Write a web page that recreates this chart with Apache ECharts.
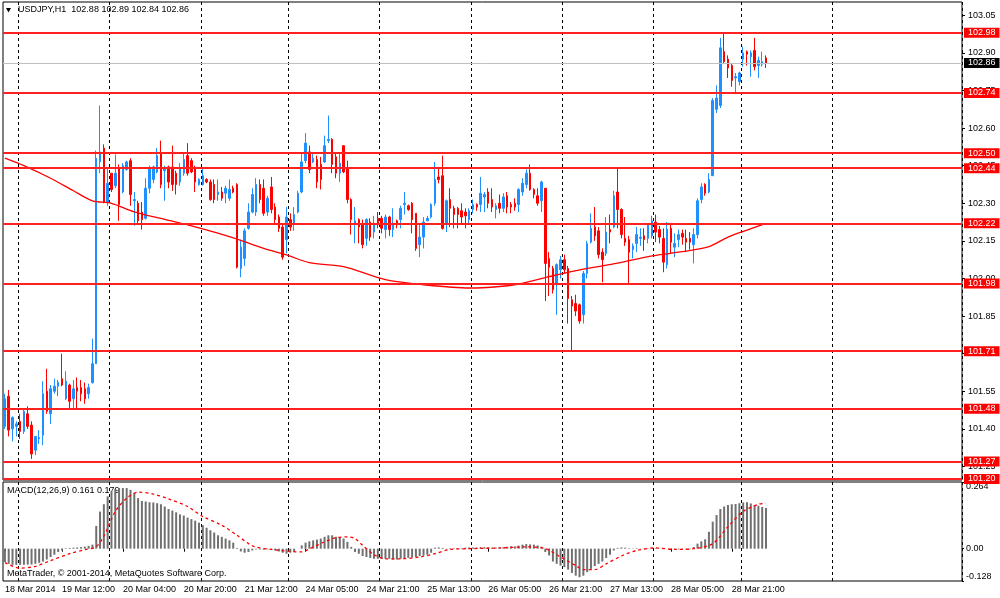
<!DOCTYPE html>
<html><head><meta charset="utf-8">
<script src="https://cdn.jsdelivr.net/npm/echarts@6/dist/echarts.min.js"></script>
<style>html,body{margin:0;padding:0;background:#fff}#c{width:1000px;height:598px}</style>
</head><body><div id="c"></div>
<script>
const symbolName = 'USDJPY,H1';
const opens = [101.41,101.53,101.40,101.41,101.43,101.39,101.46,101.415,101.315,101.36,
101.375,101.55,101.46,101.55,101.57,101.60,101.52,101.575,101.52,101.565,
101.565,101.56,101.54,101.585,101.66,102.465,102.52,102.305,102.42,102.37,
102.44,102.345,102.435,102.47,102.31,102.30,102.265,102.24,102.36,102.395,
102.425,102.50,102.43,102.445,102.445,102.42,102.385,102.42,102.49,102.47,
102.44,102.375,102.375,102.395,102.385,102.375,102.335,102.345,102.34,102.32,
102.36,102.375,102.04,102.08,102.20,102.265,102.265,102.375,102.36,102.265,
102.365,102.285,102.245,102.205,102.155,102.235,102.22,102.265,102.345,102.47,
102.505,102.465,102.475,102.455,102.465,102.55,102.555,102.485,102.42,102.53,
102.44,102.315,102.22,102.235,102.22,102.16,102.225,102.185,102.24,102.24,
102.195,102.245,102.195,102.23,102.235,102.295,102.29,102.30,102.26,102.135,
102.165,102.23,102.245,102.30,102.405,102.41,102.22,102.315,102.28,102.28,
102.27,102.265,102.235,102.275,102.295,102.295,102.325,102.345,102.315,102.275,
102.30,102.28,102.33,102.295,102.30,102.295,102.345,102.375,102.42,102.355,
102.33,102.31,102.36,102.08,102.04,101.98,102.035,102.075,102.04,101.915,
101.90,101.895,101.855,102.02,102.145,102.205,102.19,102.105,102.10,102.195,
102.205,102.345,102.275,102.16,102.155,102.115,102.14,102.16,102.17,102.16,
102.17,102.225,102.195,102.16,102.055,102.20,102.125,102.155,102.18,102.16,
102.16,102.135,102.175,102.315,102.375,102.345,102.41,102.675,102.69,102.905,
102.875,102.85,102.80,102.785,102.875,102.905,102.885,102.91,102.85,102.855,
102.88];
const highs = [101.54,101.555,101.45,101.43,101.46,101.48,101.49,101.43,101.37,101.395,
101.59,101.64,101.575,101.60,101.595,101.70,101.63,101.58,101.595,101.605,
101.595,101.585,101.58,101.76,102.51,102.69,102.535,102.44,102.42,102.495,
102.455,102.46,102.47,102.48,102.345,102.31,102.305,102.40,102.45,102.45,
102.52,102.55,102.45,102.45,102.53,102.43,102.46,102.505,102.54,102.48,
102.45,102.40,102.44,102.40,102.395,102.395,102.395,102.365,102.37,102.395,
102.37,102.38,102.155,102.20,102.30,102.36,102.40,102.395,102.395,102.33,
102.405,102.30,102.255,102.22,102.285,102.26,102.285,102.35,102.50,102.58,
102.53,102.505,102.49,102.485,102.57,102.65,102.56,102.50,102.50,102.53,
102.47,102.32,102.285,102.24,102.235,102.24,102.24,102.25,102.265,102.25,
102.255,102.25,102.28,102.235,102.29,102.345,102.295,102.305,102.26,102.22,
102.245,102.25,102.30,102.465,102.445,102.49,102.315,102.36,102.29,102.285,
102.30,102.28,102.28,102.315,102.30,102.405,102.345,102.36,102.36,102.30,
102.335,102.34,102.345,102.305,102.32,102.36,102.40,102.435,102.455,102.36,
102.36,102.39,102.36,102.105,102.05,102.06,102.09,102.095,102.05,101.93,
101.935,101.90,102.03,102.15,102.26,102.285,102.205,102.12,102.245,102.255,
102.35,102.44,102.28,102.245,102.17,102.14,102.205,102.20,102.20,102.22,
102.25,102.255,102.21,102.20,102.225,102.22,102.18,102.195,102.195,102.195,
102.185,102.20,102.32,102.38,102.38,102.42,102.72,102.77,102.96,102.98,
102.89,102.86,102.82,102.825,102.925,102.91,102.91,102.96,102.885,102.905,
102.89];
const lows = [101.40,101.37,101.35,101.37,101.36,101.38,101.40,101.28,101.295,101.34,
101.335,101.46,101.42,101.54,101.53,101.57,101.515,101.48,101.48,101.48,
101.51,101.50,101.52,101.58,101.66,102.42,102.30,102.29,102.345,102.36,
102.23,102.34,102.43,102.29,102.21,102.22,102.195,102.235,102.34,102.38,
102.42,102.36,102.31,102.36,102.35,102.335,102.37,102.41,102.41,102.42,
102.345,102.37,102.37,102.38,102.31,102.30,102.31,102.31,102.30,102.31,
102.34,102.04,102.005,102.05,102.195,102.26,102.25,102.30,102.25,102.25,
102.26,102.22,102.185,102.075,102.10,102.19,102.19,102.26,102.34,102.46,
102.42,102.46,102.36,102.355,102.46,102.54,102.42,102.40,102.385,102.42,
102.30,102.175,102.14,102.14,102.12,102.13,102.15,102.16,102.20,102.18,
102.16,102.17,102.165,102.20,102.20,102.255,102.27,102.18,102.11,102.085,
102.12,102.23,102.24,102.29,102.38,102.195,102.185,102.205,102.20,102.20,
102.22,102.20,102.22,102.26,102.27,102.265,102.265,102.28,102.265,102.24,
102.26,102.265,102.26,102.26,102.27,102.265,102.33,102.36,102.35,102.32,
102.29,102.265,101.91,101.93,101.94,101.855,102.00,102.02,101.82,101.71,
101.85,101.82,101.82,102.00,102.14,102.15,102.08,101.985,102.09,102.14,
102.20,102.20,102.16,102.13,101.98,102.08,102.105,102.13,102.11,102.14,
102.16,102.145,102.14,102.025,102.04,102.10,102.085,102.125,102.135,102.105,
102.115,102.06,102.16,102.30,102.33,102.34,102.41,102.66,102.68,102.855,
102.80,102.765,102.735,102.77,102.845,102.85,102.805,102.83,102.80,102.845,
102.84];
const closes = [101.52,101.395,101.445,101.42,101.39,101.47,101.41,101.30,101.37,101.365,
101.54,101.47,101.56,101.57,101.585,101.575,101.59,101.51,101.56,101.55,
101.54,101.52,101.565,101.66,102.48,102.505,102.305,102.38,102.355,102.42,
102.295,102.45,102.465,102.335,102.315,102.23,102.235,102.36,102.44,102.445,
102.49,102.375,102.44,102.385,102.375,102.375,102.44,102.475,102.42,102.425,
102.385,102.395,102.41,102.385,102.315,102.315,102.345,102.32,102.36,102.355,
102.345,102.045,102.125,102.19,102.265,102.335,102.375,102.315,102.26,102.32,
102.275,102.235,102.20,102.085,102.245,102.205,102.255,102.34,102.465,102.54,
102.435,102.48,102.385,102.395,102.53,102.555,102.455,102.42,102.46,102.425,
102.315,102.235,102.23,102.205,102.135,102.235,102.165,102.22,102.215,102.20,
102.245,102.195,102.22,102.215,102.28,102.30,102.275,102.235,102.12,102.165,
102.225,102.24,102.295,102.395,102.395,102.20,102.31,102.28,102.255,102.255,
102.245,102.25,102.27,102.295,102.285,102.34,102.335,102.30,102.285,102.29,
102.28,102.325,102.285,102.285,102.285,102.355,102.38,102.42,102.355,102.335,
102.30,102.385,102.06,102.045,101.955,102.055,102.075,102.035,101.92,101.89,
101.87,101.83,102.02,102.14,102.20,102.17,102.095,102.075,102.185,102.185,
102.33,102.275,102.175,102.145,102.105,102.13,102.175,102.165,102.155,102.215,
102.23,102.185,102.165,102.065,102.195,102.145,102.14,102.175,102.165,102.145,
102.145,102.175,102.31,102.365,102.34,102.395,102.71,102.72,102.92,102.865,
102.84,102.79,102.805,102.82,102.90,102.895,102.90,102.845,102.87,102.865,
102.86];

// moving average (read at sample bars)
const maBars = [0,5,12,18,23,28,34,42,50,59,68,74,80,89,100,110,122,130,135,143,152,161,170,178,185,190,195,200];
const maValues = [102.48,102.45,102.40,102.35,102.31,102.30,102.266,102.236,102.206,102.167,102.12,102.094,102.063,102.047,101.995,101.975,101.962,101.968,101.978,102.007,102.037,102.061,102.09,102.107,102.127,102.165,102.193,102.22];

// MACD histogram per bar
const macdMain = [-0.053,-0.060,-0.064,-0.064,-0.064,-0.064,-0.063,-0.063,-0.060,-0.056,
-0.051,-0.043,-0.033,-0.024,-0.013,-0.007,0.002,0.003,0.004,0.005,
0.006,0.008,0.011,0.016,0.090,0.147,0.176,0.207,0.227,0.236,
0.240,0.240,0.240,0.233,0.220,0.200,0.189,0.187,0.184,0.183,
0.180,0.176,0.167,0.157,0.151,0.144,0.136,0.131,0.123,0.117,
0.111,0.103,0.093,0.083,0.073,0.064,0.053,0.047,0.040,0.033,
0.024,0.003,-0.011,-0.016,-0.013,-0.007,-0.003,-0.003,-0.004,-0.003,
-0.004,-0.007,-0.011,-0.016,-0.020,-0.016,-0.011,0.000,0.013,0.024,
0.029,0.033,0.036,0.040,0.047,0.053,0.053,0.047,0.044,0.040,
0.027,0.007,-0.013,-0.020,-0.029,-0.033,-0.037,-0.040,-0.040,-0.040,
-0.040,-0.040,-0.043,-0.043,-0.040,-0.037,-0.036,-0.035,-0.033,-0.029,
-0.027,-0.024,-0.016,0.004,0.005,0.003,0.001,0.002,0.002,0.002,
0.002,0.004,0.005,0.005,0.004,0.006,0.006,0.005,0.004,0.004,
0.004,0.006,0.008,0.009,0.009,0.012,0.016,0.018,0.017,0.016,
0.013,0.008,-0.013,-0.027,-0.051,-0.060,-0.067,-0.073,-0.083,-0.096,
-0.107,-0.113,-0.107,-0.093,-0.080,-0.069,-0.060,-0.051,-0.037,-0.024,
-0.007,0.003,0.005,0.004,0.002,0.001,0.002,0.001,-0.001,0.001,
0.002,0.002,0.001,-0.002,0.000,-0.001,-0.002,-0.003,-0.002,-0.003,
-0.002,0.007,0.020,0.029,0.037,0.067,0.107,0.133,0.157,0.167,
0.173,0.176,0.177,0.180,0.183,0.184,0.179,0.173,0.170,0.165,
0.161];

// MACD signal (read at sample bars)
const sigBars = [0,4,8,12,17,21,24,26,29,32,35,39,43,48,52,57,61,64,66,70,75,78,80,84,87,90,92,94,97,100,104,109,113,117,122,130,137,142,146,150,152,155,158,162,166,171,176,181,186,190,194,198,200];
const sigValues = [-0.055,-0.077,-0.070,-0.047,-0.020,-0.004,0.008,0.050,0.147,0.200,0.224,0.216,0.197,0.167,0.127,0.093,0.053,0.020,0.006,-0.003,-0.011,-0.013,-0.001,0.027,0.043,0.047,0.040,0.013,-0.024,-0.040,-0.040,-0.033,-0.020,-0.003,0.000,0.003,0.007,0.000,-0.033,-0.067,-0.083,-0.083,-0.060,-0.029,-0.007,0.003,-0.003,0.000,0.020,0.087,0.147,0.176,0.179];

// horizontal levels
const levels = [102.98,102.74,102.50,102.44,102.22,101.98,101.71,101.48,101.27,101.20];

// axes
const slotCount = 252;
const tickBars = [0,15,31,47,63,79,95,111,127,143,159,175,191];
const tickTexts = ['18 Mar 2014','19 Mar 12:00','20 Mar 04:00','20 Mar 20:00','21 Mar 12:00','24 Mar 05:00','24 Mar 21:00','25 Mar 13:00','26 Mar 05:00','26 Mar 21:00','27 Mar 13:00','28 Mar 05:00','28 Mar 21:00'];
const dayBars = [4,28,52,75,99,123,147,171,194,218];
const priceTicks = [101.25,101.40,101.55,101.70,101.85,102.00,102.15,102.30,102.45,102.60,102.75,102.90,103.05];
const macdTicks = [-0.128,0,0.264];

const FONT = 'Liberation Sans';
const categories = Array.from({length: slotCount}, (_, i) => String(i));
const candles = opens.map((o, i) => [o, closes[i], lows[i], highs[i]]);
const maLine = closes.map(() => null);
maBars.forEach((b, k) => { maLine[b] = maValues[k]; });
const sigLine = closes.map(() => null);
sigBars.forEach((b, k) => { sigLine[b] = sigValues[k]; });
const last = closes.length - 1;
const bid = closes[last];

const isTick = (i) => tickBars.indexOf(i) >= 0;
const isDay = (i) => dayBars.indexOf(i) >= 0;

const lvlLabel = (bg) => ({
  show: true, position: 'end', distance: 2,
  formatter: p => Number(p.value).toFixed(2),
  color: '#fff', backgroundColor: bg, padding: [1, 4, 0, 4],
  fontSize: 9, fontFamily: FONT, lineHeight: 9
});
const lvlItem = (v, col, bg, w) => ({
  yAxis: v,
  lineStyle: {color: col, width: w, type: 'solid', opacity: 1},
  label: lvlLabel(bg)
});

const chart = echarts.init(document.getElementById('c'), null, {renderer: 'canvas'});
chart.setOption({
  animation: false,
  backgroundColor: '#fff',
  grid: [
    {left: 3, right: 38, top: 2, height: 478, show: true, borderColor: '#000', borderWidth: 1},
    {left: 3, right: 38, top: 482, height: 99, show: true, borderColor: '#000', borderWidth: 1}
  ],
  xAxis: [
    {type: 'category', gridIndex: 0, data: categories, boundaryGap: true,
     axisLine: {show: false}, axisTick: {show: false}, axisLabel: {show: false},
     splitLine: {show: true, interval: (i) => isDay(i), lineStyle: {color: '#000', type: [3, 3], width: 1}}},
    {type: 'category', gridIndex: 1, data: categories, boundaryGap: true,
     axisLine: {show: false},
     axisTick: {show: true, interval: (i) => isTick(i), alignWithLabel: true, length: 3, lineStyle: {color: '#000'}},
     axisLabel: {show: true, interval: (i) => isTick(i), formatter: (v, i) => tickTexts[tickBars.indexOf(i)] || '',
       align: 'left', margin: 4, fontSize: 9, fontFamily: FONT, color: '#000'},
     splitLine: {show: true, interval: (i) => isDay(i), lineStyle: {color: '#000', type: [3, 3], width: 1}}}
  ],
  yAxis: [
    {type: 'value', gridIndex: 0, position: 'right', min: 101.196, max: 103.103, scale: true,
     splitLine: {show: false}, axisLine: {show: false},
     axisTick: {show: true, customValues: priceTicks, length: 3, lineStyle: {color: '#000'}},
     axisLabel: {customValues: priceTicks, formatter: v => v.toFixed(2), margin: 6, fontSize: 9, fontFamily: FONT, color: '#000'}},
    {type: 'value', gridIndex: 1, position: 'right', min: -0.128, max: 0.264,
     splitLine: {show: false}, axisLine: {show: false},
     axisTick: {show: true, customValues: macdTicks, length: 2, lineStyle: {color: '#000'}},
     axisLabel: {customValues: macdTicks, formatter: v => (v === 0 ? '0.00' : v.toFixed(3)), margin: 4,
       fontSize: 9, fontFamily: FONT, color: '#000', verticalAlignMaxLabel: 'top', verticalAlignMinLabel: 'bottom'}}
  ],
  series: [
    {type: 'candlestick', xAxisIndex: 0, yAxisIndex: 0, data: candles, barWidth: 2,
     itemStyle: {color: '#1E90FF', color0: '#FF0000', borderColor: '#1E90FF', borderColor0: '#FF0000', borderWidth: 1}},
    {type: 'line', xAxisIndex: 0, yAxisIndex: 0, data: maLine, connectNulls: true, smooth: 0.3,
     showSymbol: false, symbol: 'none', lineStyle: {color: '#FF0000', width: 1.3}, itemStyle: {color: '#FF0000'}, z: 3,
     markLine: {
       silent: true, symbol: ['none', 'none'], animation: false,
       lineStyle: {color: '#FF2020', width: 2, type: 'solid'},
       label: lvlLabel('#FF0000'),
       data: levels.map(v => lvlItem(v, '#FF2020', '#FF0000', 2)).concat([lvlItem(bid, '#C0C0C0', '#000', 1)])
     }},
    {type: 'bar', xAxisIndex: 1, yAxisIndex: 1, data: macdMain, barWidth: 2,
     itemStyle: {color: '#707070'}},
    {type: 'line', xAxisIndex: 1, yAxisIndex: 1, data: sigLine, connectNulls: true, smooth: 0.3,
     showSymbol: false, symbol: 'none', lineStyle: {color: '#FF0000', width: 1.3, type: [3, 3]}, z: 3}
  ],
  graphic: [
    {type: 'polygon', shape: {points: [[6, 8], [11, 8], [8.5, 12.5]]}, style: {fill: '#000'}},
    {type: 'text', left: 18, top: 5, style: {
      text: symbolName + '  ' + [opens[last], highs[last], lows[last], closes[last]].map(v => v.toFixed(2)).join(' '),
      fontSize: 9, fontFamily: FONT, fill: '#000'}},
    {type: 'text', left: 7, top: 486, style: {
      text: 'MACD(12,26,9) ' + macdMain[last].toFixed(3) + ' ' + sigValues[sigValues.length - 1].toFixed(3),
      fontSize: 9, fontFamily: FONT, fill: '#000'}},
    {type: 'text', left: 7, top: 569, style: {
      text: 'MetaTrader, \u00A9 2001-2014, MetaQuotes Software Corp.',
      fontSize: 9, fontFamily: FONT, fill: '#000'}}
  ]
});
</script>
</body></html>
